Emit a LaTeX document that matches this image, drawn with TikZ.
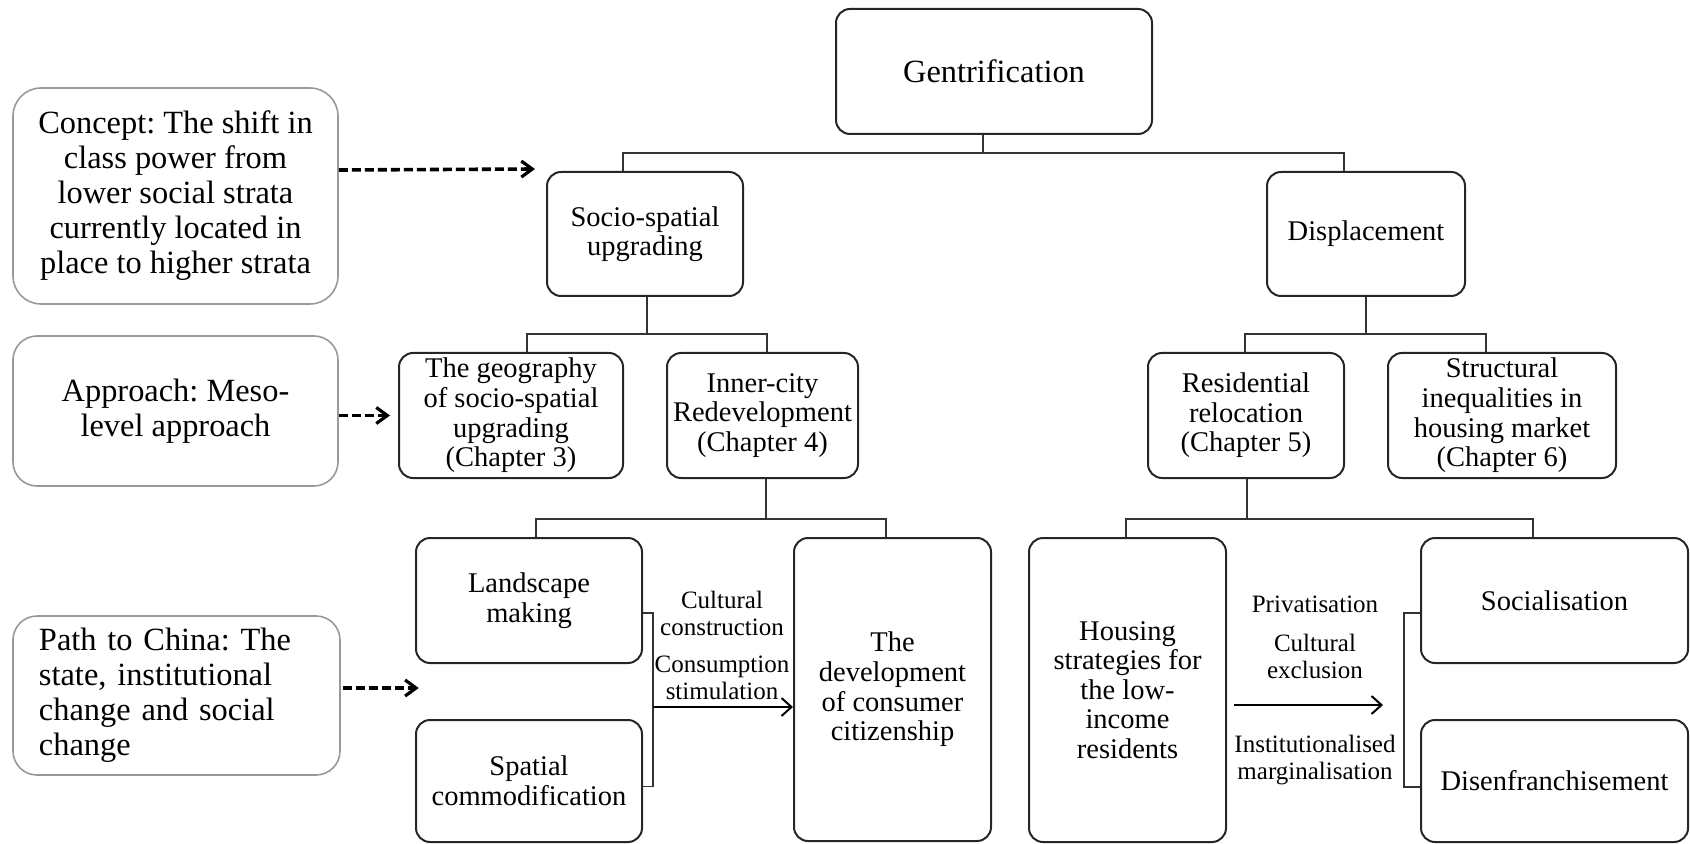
\documentclass[tikz,border=0pt]{standalone}
\usepackage{fontspec}
\setmainfont{Liberation Serif}
\usetikzlibrary{arrows.meta}
\frenchspacing

\begin{document}
\begin{tikzpicture}[x=0.5pt,y=-0.5pt,
    mainbox/.style={draw=black!85,line width=1pt,rounded corners=7pt,align=center,inner sep=0pt,
      font=\fontsize{14.25}{14.8}\selectfont},
    notebox/.style={draw=black!40,line width=0.8pt,rounded corners=14pt,align=center,inner sep=0pt,
      font=\fontsize{16.2}{17.5}\selectfont},
    flowtext/.style={inner sep=0pt,align=center,font=\fontsize{12.5}{13.5}\selectfont},
    link/.style={draw=black!80,line width=0.75pt},
    flow/.style={line width=0.75pt,-{Straight Barb[length=5pt,width=9pt,line width=1pt]}},
    hint/.style={line width=1.8pt,dash pattern=on 4.5pt off 2pt,
      -{Straight Barb[length=5.5pt,width=8pt,line width=1.6pt]}}]
    \useasboundingbox (0,0) rectangle (1690,844);

    % the tree
    \node[mainbox,minimum width=158pt,minimum height=62.5pt,font=\fontsize{16.2}{18}\selectfont]
      (gent) at (994,71.5) {Gentrification};
    \node[mainbox,minimum width=98pt,minimum height=62pt] (socio) at (645,234) {Socio-spatial\\upgrading};
    \node[mainbox,minimum width=99pt,minimum height=62pt] (displ) at (1366,234) {Displacement};

    \node[mainbox,minimum width=112pt,minimum height=62.5pt] (geo) at (511,415.5)
      {The geography\\of socio-spatial\\upgrading\\(Chapter 3)};
    \node[mainbox,minimum width=95.5pt,minimum height=62.5pt] (inner) at (762.5,415.5)
      {Inner-city\\Redevelopment\\(Chapter 4)};
    \node[mainbox,minimum width=98pt,minimum height=62.5pt] (resid) at (1246,415.5)
      {Residential\\relocation\\(Chapter 5)};
    \node[mainbox,minimum width=114pt,minimum height=62.5pt] (struct) at (1502,415.5)
      {Structural\\inequalities in\\housing market\\(Chapter 6)};

    \node[mainbox,minimum width=113pt,minimum height=62.5pt] (landscape) at (529,600.5) {Landscape\\making};
    \node[mainbox,minimum width=113pt,minimum height=61pt] (spatial) at (529,781) {Spatial\\commodification};
    \node[mainbox,minimum width=98.5pt,minimum height=151.5pt] (devel) at (892.5,689.5)
      {The\\development\\of consumer\\citizenship};
    \node[mainbox,minimum width=98.5pt,minimum height=152pt] (housing) at (1127.5,690)
      {Housing\\strategies for\\the low-\\income\\residents};
    \node[mainbox,minimum width=133.5pt,minimum height=62.5pt] (social) at (1554.5,600.5) {Socialisation};
    \node[mainbox,minimum width=133.5pt,minimum height=61pt] (disen) at (1554.5,781) {Disenfranchisement};

    % notes on the left
    \node[notebox,minimum width=162.5pt,minimum height=108pt] (concept) at (175.5,196)
      {Concept: The shift in\\class power from\\lower social strata\\currently located in\\place to higher strata};
    \node[notebox,minimum width=162.5pt,minimum height=75pt,rounded corners=12pt] (approach) at (175.5,411)
      {Approach: Meso-\\level approach};
    \node[notebox,minimum width=163.5pt,minimum height=79.5pt,rounded corners=12pt,
      align=left,text width=137.5pt] (path) at (176.5,695.5)
      {Path to China: The\\state, institutional\\change and social\\change};

    \node[flowtext] (cult) at (722,613) {Cultural\\construction};
    \node[flowtext] (consum) at (722,678) {Consumption\\stimulation};
    \node[flowtext] (priv) at (1315,604) {Privatisation};
    \node[flowtext] (excl) at (1315,656) {Cultural\\exclusion};
    \node[flowtext] (margin) at (1315,760) {Institutionalised\\marginalisation};

    % connectors
    \draw[link] ([xshift=-5.5pt]gent.south) -- ++(0,18) coordinate (gbar) -| ([xshift=-11pt]socio.north);
    \draw[link] (gbar) -| ([xshift=-11pt]displ.north);
    \draw[link] ([xshift=1pt]socio.south) -- ++(0,37) coordinate (sbar) -| ([xshift=8pt]geo.north);
    \draw[link] (sbar) -| ([xshift=2.25pt]inner.north);
    \draw[link] (displ.south) -- ++(0,37) coordinate (dbar) -| ([xshift=-0.5pt]resid.north);
    \draw[link] (dbar) -| ([xshift=-8pt]struct.north);
    \draw[link] ([xshift=1.75pt]inner.south) -- ++(0,40) coordinate (ibar) -| ([xshift=3.5pt]landscape.north);
    \draw[link] (ibar) -| ([xshift=-3.25pt]devel.north);
    \draw[link] ([xshift=0.5pt]resid.south) -- ++(0,40) coordinate (rbar) -| ([xshift=-0.75pt]housing.north);
    \draw[link] (rbar) -| ([xshift=-10.75pt]social.north);

    \draw[link] ([yshift=-6.25pt]landscape.east) -- ++(10,0) coordinate (lbrack) |- ([yshift=-2.75pt]spatial.east);
    \coordinate (lend) at ([yshift=-8.75pt]devel.west);
    \draw[flow] (lbrack |- lend) -- (lend);
    \draw[link] ([yshift=-6.25pt]social.west) -- ++(-16,0) |- ([yshift=-3pt]disen.west);
    \draw[flow] ([xshift=3.5pt,yshift=-7.5pt]housing.east) -- ++(149,0);

    \draw[hint] ([yshift=13pt]concept.east) -- ([xshift=-5.5pt,yshift=1pt]socio.north west);
    \draw[hint] (approach.east |- geo.west) -- ([xshift=-4pt]geo.west);
    \draw[hint] ([xshift=1pt,yshift=3.75pt]path.east) -- ++(76,0);
\end{tikzpicture}
\end{document}
